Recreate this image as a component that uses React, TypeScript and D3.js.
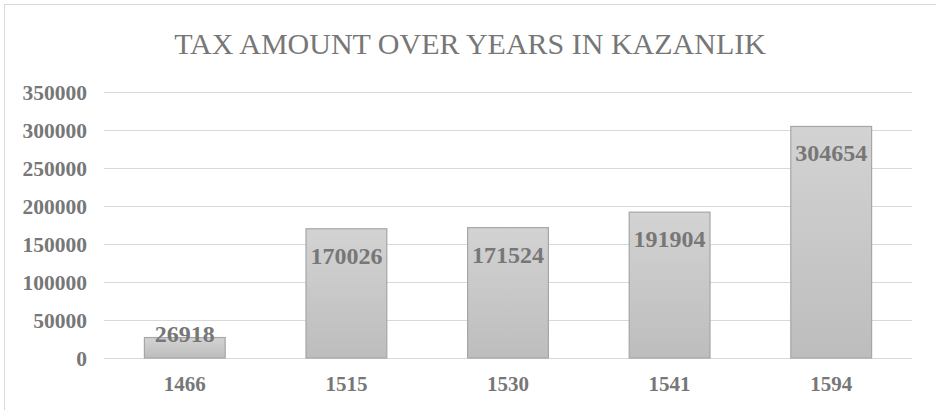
import React from "react";
import * as d3 from "d3";

const years = ["1466", "1515", "1530", "1541", "1594"];
const taxValues = [26918, 170026, 171524, 191904, 304654];
const yTicks = [0, 50000, 100000, 150000, 200000, 250000, 300000, 350000];
const titleText = "TAX AMOUNT OVER YEARS IN KAZANLIK";

const W = 936;
const H = 410;
const FONT = "'Liberation Serif', 'Times New Roman', serif";
const TEXT = "#777777";

export default function App() {
  const x = d3.scaleBand<string>().domain(years).range([104, 912]).paddingInner(0.5).paddingOuter(0.25);
  const y = d3.scaleLinear().domain([0, 350000]).range([358, 92]);
  const y0 = y(0);

  return (
    <svg width={W} height={H} style={{ position: "absolute", left: 0, top: 0, display: "block" }}>
      <defs>
        <linearGradient id="barGrad" x1="0" y1="0" x2="0" y2="1">
          <stop offset="0%" stopColor="#d3d3d3" />
          <stop offset="100%" stopColor="#bdbdbd" />
        </linearGradient>
      </defs>
      <rect x={0} y={0} width={W} height={H} fill="#fff" />
      <rect x={4.5} y={4.5} width={W + 10} height={H + 10} fill="#fff" stroke="#d9d9d9" strokeWidth={1} />
      <text x={470} y={54} textAnchor="middle" fontFamily={FONT} fontSize={30} fill={TEXT}>
        {titleText}
      </text>
      {yTicks.map((t) => (
        <g key={t}>
          <line x1={104} x2={912} y1={Math.round(y(t)) + 0.5} y2={Math.round(y(t)) + 0.5} stroke="#d9d9d9" strokeWidth={1.2} />
          <text x={87} y={y(t) + 7.5} textAnchor="end" fontFamily={FONT} fontWeight="bold" fontSize={21.5} fill={TEXT}>
            {t}
          </text>
        </g>
      ))}
      {years.map((yr, i) => {
        const v = taxValues[i];
        const bx = x(yr)!;
        const bw = x.bandwidth();
        const top = y(v);
        const labelY = Math.min(top + 35, y0 - 16);
        return (
          <g key={yr}>
            <rect x={bx} y={top} width={bw} height={y0 - top} fill="url(#barGrad)" stroke="#a6a6a6" strokeWidth={1.2} />
            <text x={bx + bw / 2} y={labelY} textAnchor="middle" fontFamily={FONT} fontWeight="bold" fontSize={24} fill={TEXT}>
              {v}
            </text>
            <text x={bx + bw / 2} y={391} textAnchor="middle" fontFamily={FONT} fontWeight="bold" fontSize={21} fill={TEXT}>
              {yr}
            </text>
          </g>
        );
      })}
    </svg>
  );
}
